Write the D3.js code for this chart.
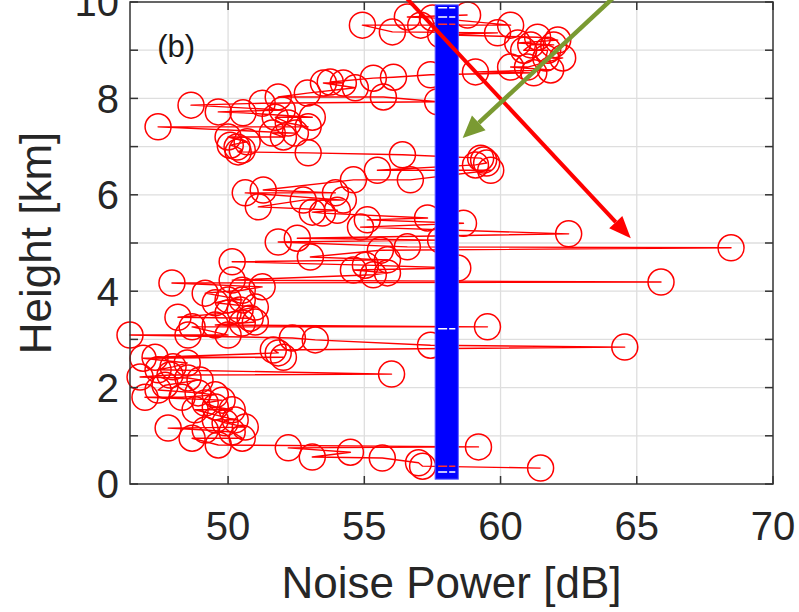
<!DOCTYPE html>
<html>
<head>
<meta charset="utf-8">
<script src="https://cdn.jsdelivr.net/npm/d3@7"></script>
<style>
  html, body { margin: 0; padding: 0; background: #fff; }
  svg { display: block; font-family: "Liberation Sans", Arial, Helvetica, sans-serif; }
</style>
</head>
<body>
<svg id="chart" width="799" height="612"></svg>
<script>
// Echo samples: noise power [dB] per height [km]
const noisePower = [
  54.93, 56.03, 56.58, 57.07, 57.50, 57.80, 58.79, 59.89, 60.37, 60.63, 61.36, 61.73, 62.10, 60.85,
  60.37, 60.99, 61.22, 61.84, 62.28, 61.66, 61.11, 61.95, 59.08,
  53.50, 54.23, 54.67, 55.33, 56.07, 55.70, 57.43, 52.91, 53.75,
  47.43, 48.64, 49.64, 50.55, 51.25, 51.84, 51.73, 51.99, 52.21, 52.94, 53.09, 57.69,
  50.00, 50.33, 50.52, 50.70, 50.37, 51.62, 52.03, 52.47, 52.94, 56.40, 50.08,
  59.27, 59.49, 59.64, 59.08, 59.38,
  50.63, 51.29, 51.11, 52.76, 53.46, 53.94, 54.60, 55.48, 56.69, 54.23, 54.01, 54.86, 55.11, 57.32, 58.64, 53.09,
  51.84, 52.54, 53.02, 50.15, 55.59, 55.85, 56.58, 54.60, 55.33, 55.85, 58.43, 62.50, 68.46, 57.80, 55.04,
  47.94, 65.89, 50.15, 51.25, 50.52,
  49.16, 49.53, 50.00, 50.52, 51.00, 50.00, 50.44, 48.16, 48.68, 49.53, 50.52, 51.00, 46.40, 48.53, 50.00, 50.81,
  52.36, 53.20, 51.66, 51.84, 52.03, 59.52, 57.43, 64.56,
  46.88, 47.32, 46.77, 47.43, 47.98, 48.50, 48.53, 47.69, 46.95, 47.43, 48.31, 48.90, 49.53, 49.16, 48.79, 49.53,
  49.78, 50.15, 49.53, 49.89, 50.26, 50.63, 56.00, 47.87, 48.97,
  47.80, 48.68, 49.64, 50.52, 52.21, 53.09, 54.49, 55.66, 56.99, 57.14, 59.19, 61.47, 50.15, 49.16
];
const heightKm = [
  9.52, 9.38, 9.69, 9.52, 9.67, 9.32, 9.73, 9.36, 9.52, 9.15, 9.27, 9.00, 9.21, 9.00,
  8.65, 8.65, 8.53, 8.59, 8.84, 8.84, 9.11, 9.11, 8.55,
  8.32, 8.32, 8.22, 8.42, 8.44, 8.03, 8.49, 8.11, 8.34,
  7.41, 7.86, 7.72, 7.70, 7.90, 8.03, 7.61, 7.76, 7.49, 7.41, 7.61, 7.93,
  7.20, 6.99, 6.93, 7.10, 6.89, 7.28, 7.20, 7.28, 6.87, 6.83, 7.03,
  6.76, 6.66, 6.51, 6.62, 6.72,
  6.04, 6.10, 5.75, 5.89, 5.62, 6.04, 6.31, 6.51, 6.31, 5.89, 5.68, 5.33, 5.48, 5.52, 5.41, 5.64,
  5.02, 5.10, 4.71, 4.61, 4.85, 4.65, 4.92, 4.44, 4.34, 4.38, 4.48, 5.19, 4.90, 5.06, 4.54,
  4.17, 4.19, 4.23, 4.09, 4.02,
  3.96, 3.76, 3.82, 3.82, 3.67, 3.55, 3.61, 3.46, 3.26, 3.30, 3.34, 3.36, 3.09, 3.09, 3.09, 3.44,
  3.03, 2.99, 2.78, 2.72, 2.63, 3.26, 2.88, 2.84,
  2.61, 2.63, 2.22, 2.37, 2.43, 2.51, 2.20, 2.05, 1.80, 1.95, 1.80, 1.89, 1.85, 1.68, 1.54, 1.60,
  1.74, 1.54, 1.33, 1.27, 1.33, 1.18, 2.28, 2.26, 2.16,
  1.16, 0.95, 0.81, 0.95, 0.75, 0.56, 0.66, 0.54, 0.44, 0.37, 0.77, 0.33, 1.08, 1.12
];

// Noise-floor band [dB] and its height span [km]
const bandPower = [57.6, 58.45];
const bandHeight = [0.1, 9.94];
// Thin breaks across the band: height [km] and colour key
const bandBreakHeight = [9.88, 9.69, 9.54, 3.22, 0.37, 0.25];
const bandBreakKind   = ["gap", "gap", "stem", "gap", "stem", "gap"];

// Axis ticks
const xTicks = [50, 55, 60, 65, 70];
const yTicks = [0, 1, 2, 3, 4, 5, 6, 7, 8, 9, 10];
const yTickLabels = [0, 2, 4, 6, 8, 10];

// Annotation arrows: [start power, start height, end power, end height]
const redArrow = [56.52, 10.1, 64.78, 5.10];
const greenArrow = [64.16, 10.1, 58.61, 7.18];

const svg = d3.select("#chart");
const pL = 130, pR = 773, pT = 2, pB = 484;

const x = d3.scaleLinear().domain([46.4, 70]).range([pL, pR]);
const y = d3.scaleLinear().domain([0, 10]).range([pB, pT]);

const axisColor = "#333333";
const gridColor = "#dedede";

// grid
const grid = svg.append("g");
grid.append("g").selectAll("line").data(xTicks.filter(t => t < 70)).join("line")
  .attr("x1", d => x(d)).attr("x2", d => x(d))
  .attr("y1", pT).attr("y2", pB)
  .attr("stroke", gridColor).attr("stroke-width", 1.3);
grid.append("g").selectAll("line").data(yTicks.filter(t => t > 0 && t < 10)).join("line")
  .attr("x1", pL).attr("x2", pR)
  .attr("y1", d => y(d)).attr("y2", d => y(d))
  .attr("stroke", gridColor).attr("stroke-width", 1.3);

// profile: samples joined in height order, circle markers
const samples = d3.sort(noisePower.map((v, i) => ({ v, h: heightKm[i] })), d => d.h);
const profile = d3.line().x(d => x(d.v)).y(d => y(d.h));
const marks = svg.append("g");
marks.append("path").datum(samples)
  .attr("d", profile)
  .attr("fill", "none").attr("stroke", "#ff0000").attr("stroke-width", 1.4)
  .attr("stroke-linejoin", "round");
marks.append("g").selectAll("circle").data(samples).join("circle")
  .attr("cx", d => x(d.v)).attr("cy", d => y(d.h)).attr("r", 13)
  .attr("fill", "none").attr("stroke", "#ff0000").attr("stroke-width", 1.5);

// noise-floor band
svg.append("rect")
  .attr("x", x(bandPower[0])).attr("width", x(bandPower[1]) - x(bandPower[0]))
  .attr("y", y(bandHeight[1])).attr("height", y(bandHeight[0]) - y(bandHeight[1]))
  .attr("fill", "#0000ff").attr("stroke", "#5a5aff").attr("stroke-width", 1);
svg.append("g").selectAll("line")
  .data(bandBreakHeight.map((h, i) => ({ h, k: bandBreakKind[i] })))
  .join("line")
  .attr("x1", x(bandPower[0]) + 3).attr("x2", x(bandPower[1]) - 3)
  .attr("y1", d => y(d.h)).attr("y2", d => y(d.h))
  .attr("stroke", d => d.k === "gap" ? "#ffffff" : "#ff3030")
  .attr("stroke-width", 1.5).attr("stroke-dasharray", "9,2");

// box, ticks
const axes = svg.append("g");
axes.append("rect").attr("x", pL).attr("y", pT)
  .attr("width", pR - pL).attr("height", pB - pT)
  .attr("fill", "none").attr("stroke", axisColor).attr("stroke-width", 1.5);
const tl = 8;
axes.append("g").selectAll("line").data(xTicks).join("line")
  .attr("x1", d => x(d)).attr("x2", d => x(d)).attr("y1", pB).attr("y2", pB - tl)
  .attr("stroke", axisColor).attr("stroke-width", 1.5);
axes.append("g").selectAll("line").data(xTicks).join("line")
  .attr("x1", d => x(d)).attr("x2", d => x(d)).attr("y1", pT).attr("y2", pT + tl)
  .attr("stroke", axisColor).attr("stroke-width", 1.5);
axes.append("g").selectAll("line").data(yTicks).join("line")
  .attr("x1", pL).attr("x2", pL + tl).attr("y1", d => y(d)).attr("y2", d => y(d))
  .attr("stroke", axisColor).attr("stroke-width", 1.5);
axes.append("g").selectAll("line").data(yTicks).join("line")
  .attr("x1", pR).attr("x2", pR - tl).attr("y1", d => y(d)).attr("y2", d => y(d))
  .attr("stroke", axisColor).attr("stroke-width", 1.5);

// tick labels
const textColor = "#262626";
svg.append("g").selectAll("text").data(xTicks).join("text")
  .attr("x", d => x(d)).attr("y", 540)
  .attr("text-anchor", "middle").attr("font-size", 40).attr("fill", textColor)
  .text(d => d);
svg.append("g").selectAll("text").data(yTickLabels).join("text")
  .attr("x", 119).attr("y", d => y(d)).attr("dy", "0.36em")
  .attr("text-anchor", "end").attr("font-size", 40).attr("fill", textColor)
  .text(d => d);

// axis titles
svg.append("text").attr("x", (pL + pR) / 2).attr("y", 598)
  .attr("text-anchor", "middle").attr("font-size", 44).attr("fill", textColor)
  .text("Noise Power [dB]");
svg.append("text")
  .attr("transform", `translate(51,${(pT + pB) / 2}) rotate(-90)`)
  .attr("text-anchor", "middle").attr("font-size", 44).attr("fill", textColor)
  .text("Height [km]");

// panel tag
svg.append("text").attr("x", x(47.4)).attr("y", y(8.86))
  .attr("font-size", 31).attr("fill", "#1a1a1a").text("(b)");

// annotation arrows
function arrow(a, color, width, headLen, headHalf) {
  const x0 = x(a[0]), y0 = y(a[1]), x1 = x(a[2]), y1 = y(a[3]);
  const dx = x1 - x0, dy = y1 - y0, L = Math.hypot(dx, dy);
  const ux = dx / L, uy = dy / L;
  const bx = x1 - ux * headLen, by = y1 - uy * headLen;
  svg.append("line").attr("x1", x0).attr("y1", y0).attr("x2", bx).attr("y2", by)
    .attr("stroke", color).attr("stroke-width", width);
  svg.append("polygon")
    .attr("points", [[x1, y1], [bx - uy * headHalf, by + ux * headHalf], [bx + uy * headHalf, by - ux * headHalf]]
      .map(p => p.join(",")).join(" "))
    .attr("fill", color);
}
arrow(redArrow, "#ff0000", 4, 22, 9);
arrow(greenArrow, "#7a9a32", 4.5, 22, 10);
</script>
</body>
</html>
